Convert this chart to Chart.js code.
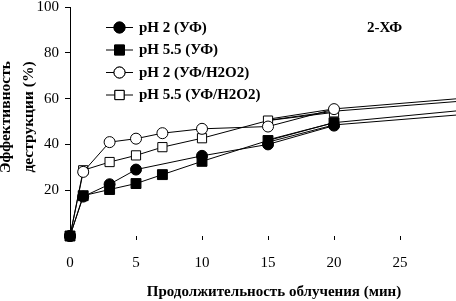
<!DOCTYPE html>
<html><head><meta charset="utf-8">
<script src="https://cdn.jsdelivr.net/npm/chart.js@4.4.1/dist/chart.umd.min.js"></script>
<style>html,body{margin:0;padding:0;background:#fff}#wrap{width:456px;height:301px}</style>
</head><body><div id="wrap"><canvas id="c" width="456" height="301"></canvas></div>
<script>
// ---- data ----
const timesA = [0, 1, 3, 5, 10, 15, 20];          // pH 2 (УФ) has no 7-min point
const timesB = [0, 1, 3, 5, 7, 10, 15, 20];
const ph2UV      = [0, 17.2, 22.6, 29.0, 35.0, 40.0, 48.2];
const ph55UV     = [0, 17.6, 20.3, 22.9, 26.8, 32.6, 41.7, 49.5];
const ph2UVH2O2  = [0, 28.0, 41.0, 42.5, 44.9, 46.8, 47.8, 55.4];
const ph55UVH2O2 = [0, 28.7, 32.3, 35.2, 38.8, 42.7, 50.4, 54.0];
// trend lines (read at x = 15, 20 and the right edge)
const trendX = [15, 20, 29.24];
const trendPh2UVH2O2  = [51.0, 55.5, 59.9];
const trendPh55UVH2O2 = [50.5, 54.5, 58.7];
const trendPh55UV     = [42.0, 49.5, 54.6];
const trendPh2UV      = [41.0, 48.5, 52.8];
const labels = ['pH 2 (УФ)', 'pH 5.5 (УФ)', 'pH 2 (УФ/H2O2)', 'pH 5.5 (УФ/H2O2)'];
const xTitle = 'Продолжительность облучения (мин)';
const yTitle = ['Эффективность', 'деструкции (%)'];
const note = '2-ХФ';
const xTicks = [0, 5, 10, 15, 20, 25];
const yTicks = [20, 40, 60, 80, 100];

const pts = (xs, ys) => xs.map((x, i) => ({x: x, y: ys[i]}));
const serif = '"Liberation Serif", "Times New Roman", serif';

function series(label, xs, ys, style, fill, r) {
  return {label, data: pts(xs, ys), borderColor: '#000', borderWidth: 1,
    pointStyle: style, pointRadius: r, pointHoverRadius: r,
    pointBackgroundColor: fill, pointBorderColor: '#000', pointBorderWidth: 1,
    backgroundColor: fill, tension: 0, clip: false, showLine: true};
}
function trend(ys) {
  return {label: '', isTrend: true, data: pts(trendX, ys), borderColor: '#000', borderWidth: 1,
    pointRadius: 0, pointHoverRadius: 0, tension: 0, clip: false, showLine: true};
}

const annot = {
  id: 'annot',
  afterDraw(chart) {
    const ctx = chart.ctx;
    ctx.save();
    ctx.fillStyle = '#000';
    // legend
    const ds = chart.data.datasets.filter(d => !d.isTrend);
    const rows = [27, 49.5, 72, 94.5];
    ds.forEach((d, i) => {
      const y = rows[i];
      ctx.strokeStyle = '#000'; ctx.lineWidth = 1;
      ctx.beginPath(); ctx.moveTo(106, y + 0.5); ctx.lineTo(133, y + 0.5); ctx.stroke();
      Chart.helpers.drawPoint(ctx, {pointStyle: d.pointStyle, radius: d.pointRadius, borderWidth: 1}, 119.5, y + 0.5);
      ctx.fillStyle = d.pointBackgroundColor; ctx.fill();
      ctx.stroke();
      ctx.fillStyle = '#000';
      ctx.font = 'bold 15px ' + serif;
      ctx.textBaseline = 'middle'; ctx.textAlign = 'left';
      ctx.fillText(d.label, 139, y + 1);
    });
    // note
    ctx.font = 'bold 15px ' + serif;
    ctx.textBaseline = 'middle'; ctx.textAlign = 'left';
    ctx.fillText(note, 367, 28);
    // x title
    ctx.textAlign = 'center'; ctx.textBaseline = 'middle';
    ctx.fillText(xTitle, 274, 292);
    // y title
    ctx.font = 'bold 15.5px ' + serif;
    ctx.translate(0, 117);
    ctx.rotate(-Math.PI / 2);
    ctx.textBaseline = 'alphabetic';
    ctx.fillText(yTitle[0], 0, 10);
    ctx.fillText(yTitle[1], 0, 33);
    ctx.restore();
  }
};

new Chart(document.getElementById('c'), {
  type: 'scatter',
  data: {datasets: [
    series(labels[0], timesA, ph2UV, 'circle', '#000', 5.5),
    series(labels[1], timesB, ph55UV, 'rect', '#000', 7),
    series(labels[2], timesB, ph2UVH2O2, 'circle', '#fff', 5.5),
    series(labels[3], timesB, ph55UVH2O2, 'rect', '#fff', 6.5),
    trend(trendPh2UVH2O2), trend(trendPh55UVH2O2), trend(trendPh55UV), trend(trendPh2UV)
  ]},
  options: {
    responsive: false, animation: false, devicePixelRatio: 1,
    layout: {autoPadding: false, padding: {top: 7, left: 0, right: 0, bottom: 0}},
    plugins: {legend: {display: false}, tooltip: {enabled: false}, title: {display: false}},
    scales: {
      x: {type: 'linear', min: 0, max: 29.24,
        afterBuildTicks: s => { s.ticks = xTicks.map(v => ({value: v})); },
        afterFit: s => { s.height = 65; s.paddingLeft = 0; s.paddingRight = 0; },
        border: {display: false},
        grid: {drawOnChartArea: false, tickLength: 4, color: '#000', lineWidth: 1},
        ticks: {color: '#000', font: {family: serif, size: 15}, padding: 14, maxRotation: 0, autoSkip: false}
      },
      y: {type: 'linear', min: 0, max: 100,
        afterBuildTicks: s => { s.ticks = yTicks.map(v => ({value: v})); },
        afterFit: s => { s.width = 70; s.paddingTop = 0; s.paddingBottom = 0; },
        border: {display: true, color: '#000', width: 1},
        grid: {drawOnChartArea: false, tickLength: 5, color: '#000', lineWidth: 1},
        ticks: {color: '#000', font: {family: serif, size: 15}, padding: 6, autoSkip: false}
      }
    }
  },
  plugins: [annot]
});
</script></body></html>
